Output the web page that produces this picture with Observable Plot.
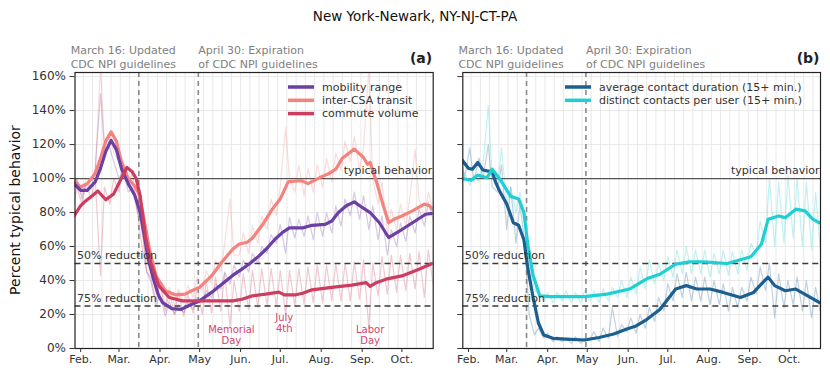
<!DOCTYPE html>
<html><head><meta charset="utf-8">
<script src="https://cdn.jsdelivr.net/npm/d3@7"></script>
<script src="https://cdn.jsdelivr.net/npm/@observablehq/plot@0.6"></script>
<style>
body{margin:0;background:#fff;font-family:"DejaVu Sans",sans-serif;}
#title{height:30px;box-sizing:border-box;padding-top:8px;text-align:center;font-size:13.5px;color:#111;line-height:17px;}
#row{display:flex;}
</style></head><body>
<div id="title">New York-Newark, NY-NJ-CT-PA</div>
<div id="row"></div>
<script>
// ---------- tick labels / annotations ----------
const monthTicks = ["2020-02-01","2020-03-01","2020-04-01","2020-05-01","2020-06-01","2020-07-01","2020-08-01","2020-09-01","2020-10-01"];
const monthLabels = ["Feb.","Mar.","Apr.","May","Jun.","Jul.","Aug.","Sep.","Oct."];
const yTicks = [0,20,40,60,80,100,120,140,160];
const eventDates = ["2020-03-16","2020-04-30"];
const eventLabels = ["March 16: Updated\nCDC NPI guidelines","April 30: Expiration\nof CDC NPI guidelines"];
const refValues = [100,50,25];
const refLabels = ["typical behavior","50% reduction","75% reduction"];
const holidayDates = ["2020-05-25","2020-07-04","2020-09-07"];
const holidayLabels = ["Memorial\nDay","July\n4th","Labor\nDay"];
const holidayY = [8,15,8];
const panelLabels = ["(a)","(b)"];
const namesA = ["mobility range","inter-CSA transit","commute volume"];
const namesB = ["average contact duration (15+ min.)","distinct contacts per user (15+ min.)"];

// ---------- smoothed series (date, percent) ----------
const mobilitySmooth = [["2020-01-27",97],["2020-02-01",93],["2020-02-06",93],["2020-02-12",98],["2020-02-16",106],["2020-02-20",116],["2020-02-24",122.5],["2020-02-28",117],["2020-03-03",105.5],["2020-03-08",97],["2020-03-13",90],["2020-03-17",80],["2020-03-20",67],["2020-03-23",53],["2020-03-27",41],["2020-03-31",31],["2020-04-03",27],["2020-04-10",23.5],["2020-04-17",23],["2020-04-25",26],["2020-05-01",28],["2020-05-10",33],["2020-05-18",38],["2020-05-26",43],["2020-06-02",46.7],["2020-06-08",50],["2020-06-15",54.5],["2020-06-21",59],["2020-06-27",64.3],["2020-07-03",68.5],["2020-07-08",71],["2020-07-18",71],["2020-07-25",72.5],["2020-08-04",73],["2020-08-09",75],["2020-08-14",80],["2020-08-20",84],["2020-08-26",86.3],["2020-09-01",83],["2020-09-07",80],["2020-09-14",74],["2020-09-21",65.3],["2020-09-29",69],["2020-10-09",74],["2020-10-19",79],["2020-10-24",79.5]];
const transitSmooth = [["2020-01-27",99],["2020-02-01",95],["2020-02-06",97],["2020-02-12",103],["2020-02-16",112],["2020-02-20",122],["2020-02-24",127.5],["2020-02-28",122],["2020-03-03",109.5],["2020-03-08",100],["2020-03-13",95.5],["2020-03-16",91],["2020-03-19",80],["2020-03-24",58.5],["2020-03-29",42.7],["2020-04-05",34],["2020-04-13",31.5],["2020-04-20",32],["2020-04-25",34],["2020-05-01",36],["2020-05-10",42.7],["2020-05-18",51],["2020-05-26",58.4],["2020-05-31",61.5],["2020-06-06",62.5],["2020-06-10",65],["2020-06-18",73.3],["2020-06-25",82],["2020-07-01",88],["2020-07-07",98],["2020-07-12",98.5],["2020-07-17",98.8],["2020-07-22",97],["2020-08-01",101],["2020-08-07",103],["2020-08-12",105.5],["2020-08-17",112],["2020-08-26",117.3],["2020-09-02",112.4],["2020-09-05",108.4],["2020-09-07",109.5],["2020-09-12",97.6],["2020-09-17",84],["2020-09-21",74],["2020-09-25",76],["2020-10-01",78],["2020-10-09",81],["2020-10-18",85],["2020-10-22",84],["2020-10-24",82]];
const commuteSmooth = [["2020-01-27",78],["2020-02-01",84],["2020-02-05",87],["2020-02-10",90],["2020-02-14",92.7],["2020-02-20",87.5],["2020-02-26",91],["2020-03-03",100.5],["2020-03-07",106.5],["2020-03-11",104],["2020-03-14",100],["2020-03-17",90],["2020-03-21",66],["2020-03-25",50.6],["2020-03-31",37],["2020-04-08",30],["2020-04-18",28],["2020-05-01",28],["2020-05-15",28],["2020-05-26",28],["2020-06-02",29],["2020-06-10",31],["2020-06-20",32],["2020-06-30",33.2],["2020-07-04",31.5],["2020-07-12",31.5],["2020-07-18",32.5],["2020-07-25",34.5],["2020-08-09",36],["2020-08-24",37.3],["2020-09-04",38.8],["2020-09-07",36.5],["2020-09-11",38.5],["2020-09-19",40.8],["2020-10-01",42.7],["2020-10-13",46.3],["2020-10-24",50]];
const durationSmooth = [["2020-01-27",111],["2020-02-01",106],["2020-02-04",105.5],["2020-02-08",109.5],["2020-02-12",105],["2020-02-15",104.5],["2020-02-19",104],["2020-02-22",97],["2020-02-25",92],["2020-03-01",85],["2020-03-06",74],["2020-03-10",72.5],["2020-03-14",64],["2020-03-17",47],["2020-03-21",30],["2020-03-25",15],["2020-03-29",8],["2020-04-05",6],["2020-04-15",5.5],["2020-04-29",5],["2020-05-10",6.5],["2020-05-21",8.5],["2020-05-31",11.5],["2020-06-07",13.3],["2020-06-15",17],["2020-06-25",23],["2020-06-30",28],["2020-07-07",35],["2020-07-15",37],["2020-07-23",35],["2020-08-02",35],["2020-08-12",33],["2020-08-25",30],["2020-09-04",33],["2020-09-10",38],["2020-09-15",42],["2020-09-20",37],["2020-09-28",34],["2020-10-06",35],["2020-10-15",31],["2020-10-24",27]];
const contactsSmooth = [["2020-01-27",100],["2020-02-03",99],["2020-02-08",102],["2020-02-15",100.5],["2020-02-19",105.5],["2020-02-25",99.5],["2020-03-04",89.5],["2020-03-10",88],["2020-03-14",80],["2020-03-17",61],["2020-03-21",43],["2020-03-26",31],["2020-04-03",30.5],["2020-04-29",30.5],["2020-05-16",32],["2020-06-02",35],["2020-06-15",41],["2020-06-25",43.7],["2020-07-07",49.6],["2020-07-17",51],["2020-07-28",51],["2020-08-15",50],["2020-09-02",54],["2020-09-10",61.5],["2020-09-15",76],["2020-09-23",78],["2020-09-28",77],["2020-10-06",82],["2020-10-13",81],["2020-10-19",76],["2020-10-24",74]];

// ---------- daily raw values, read as (Sunday, Wednesday) of each week from 2020-01-26 ----------
const mobilityRaw = [92,100, 88,97, 95,105, 150,118, 118,110, 100,105, 92,95, 80,75, 45,40, 25,32, 19,28, 20,26, 21,27, 23,30, 27,34, 30,38, 35,45, 38,49, 42,52, 45,56, 50,60, 56,67, 62,73, 56,77, 65,76, 66,78, 64,80, 66,80, 68,84, 72,88, 78,92, 76,90, 70,84, 64,78, 55,70, 60,74, 63,78, 68,82, 72,86, 75,84];
const transitRaw = [95,100, 90,100, 100,105, 165,120, 125,115, 110,105, 100,98, 85,70, 50,48, 32,38, 26,36, 25,35, 27,37, 30,42, 33,46, 38,52, 45,62, 88,55, 55,68, 56,72, 62,78, 70,88, 78,95, 130,100, 92,108, 90,106, 92,108, 95,112, 98,115, 105,122, 110,125, 105,118, 165,100, 85,98, 68,82, 70,85, 72,88, 117,88, 78,92, 80,90];
const commuteRaw = [80,95, 85,97, 88,100, 43,95, 85,100, 92,110, 95,104, 80,62, 45,42, 28,38, 22,34, 20,33, 19,32, 21,36, 20,40, 21,42, 22,44, 13,40, 22,44, 23,46, 24,47, 25,47, 25,46, 20,46, 25,47, 26,48, 27,49, 27,49, 28,50, 28,50, 28,51, 29,52, 12,50, 31,54, 32,55, 33,55, 34,56, 35,57, 30,58, 36,60];
const durationRaw = [115,100, 118,98, 112,100, 120,95, 92,108, 70,95, 62,85, 60,20, 8,12, 6,9, 4,7, 4,6, 3,7, 3,6, 5,10, 4,12, 6,24, 7,14, 10,18, 9,20, 12,24, 16,30, 22,38, 28,44, 30,45, 28,42, 28,42, 26,40, 26,38, 22,36, 24,36, 28,42, 32,48, 34,50, 18,44, 24,40, 26,42, 22,40, 18,36, 20,30];
const contactsRaw = [95,104, 96,102, 98,108, 143,100, 95,118, 85,95, 80,92, 75,50, 35,32, 28,33, 27,33, 28,34, 27,33, 27,34, 28,34, 27,35, 28,36, 30,40, 30,42, 32,48, 35,52, 38,50, 40,54, 42,58, 44,60, 44,58, 44,58, 42,56, 44,58, 43,57, 44,58, 46,62, 55,75, 62,100, 60,98, 62,102, 65,100, 60,98, 58,92, 55,85];

const colors = {mobility:"#6b3fa3", transit:"#f4827e", commute:"#cc3d5f", duration:"#1b5e8f", contacts:"#1fcfd3"};

// ---------- helpers ----------
const parse = d3.utcParse("%Y-%m-%d");
const xDomain = [new Date("2020-01-27T17:00Z"), new Date("2020-10-24T17:00Z")];
const toPts = arr => arr.map(([d,v]) => ({date: parse(d), value: v}));
const rawStart = parse("2020-01-26");
const rawPts = vals => vals.map((v,i) => ({date: d3.utcDay.offset(rawStart, Math.floor(i/2)*7 + (i%2 ? 3 : 0)), value: v}));
const labelMap = new Map(monthTicks.map((d,i) => [+parse(d), monthLabels[i]]));

function makePanel(cfg){
  const weeks = d3.utcMonday.range(xDomain[0], xDomain[1]);
  const marks = [
    Plot.ruleX(weeks, {stroke:"#e3e3e3", strokeWidth:0.8}),
    Plot.ruleY(yTicks, {stroke:"#e3e3e3", strokeWidth:0.8})
  ];
  for (const s of cfg.series) marks.push(Plot.line(rawPts(s.raw), {x:"date", y:"value", stroke:s.color, strokeOpacity:0.28, strokeWidth:1.2, clip:true}));
  marks.push(
    Plot.ruleX(eventDates.map(parse), {x:d=>d, stroke:"#8a8a8a", strokeWidth:1.6, strokeDasharray:"5,4"}),
    Plot.ruleY([refValues[0]], {stroke:"#555", strokeWidth:1.3}),
    Plot.ruleY(refValues.slice(1), {stroke:"#3a3a3a", strokeWidth:1.6, strokeDasharray:"6,4"})
  );
  for (const s of cfg.series) marks.push(Plot.line(toPts(s.smooth), {x:"date", y:"value", stroke:s.color, strokeWidth:3.2, clip:true}));
  marks.push(
    Plot.text([refValues[0]], {y:d=>d, text:()=>refLabels[0], frameAnchor:"right", textAnchor:"end", dx:-1, dy:-8, fontSize:11, fill:"#333"}),
    Plot.text(refValues.slice(1), {y:d=>d, text:(d,i)=>refLabels[i+1], frameAnchor:"left", textAnchor:"start", dx:2, dy:-8, fontSize:11, fill:"#333"}),
    Plot.text([parse(eventDates[0])], {x:d=>d, frameAnchor:"top", text:()=>eventLabels[0], textAnchor:"middle", dx:-15.5, dy:-16, lineAnchor:"middle", lineHeight:1.27, fontSize:11, fill:"#808080"}),
    Plot.text([parse(eventDates[1])], {x:d=>d, frameAnchor:"top", text:()=>eventLabels[1], textAnchor:"start", dx:0, dy:-16, lineAnchor:"middle", lineHeight:1.27, fontSize:11, fill:"#808080"}),
    Plot.text([cfg.label], {text:d=>d, frameAnchor:"top-right", textAnchor:"end", dx:-1, dy:-14, lineAnchor:"middle", fontWeight:"bold", fontSize:14, fill:"#222"})
  );
  if (cfg.holidays) marks.push(Plot.text(holidayDates.map(parse), {x:d=>d, y:(d,i)=>holidayY[i], text:(d,i)=>holidayLabels[i], fill:"#d4456f", fontSize:10, lineHeight:1.1}));
  marks.push(
    Plot.frame({stroke:"#222", strokeWidth:1.2}),
    Plot.axisX(monthTicks.map(parse), {tickFormat:d=>labelMap.get(+d), tickSize:4, tickPadding:3, fontSize:11, label:null}),
    Plot.axisY(yTicks, {tickFormat: cfg.yLabels ? (d=>d+"%") : (()=>""), tickSize:5, tickPadding:4, fontSize:12, label:null})
  );
  const plot = Plot.plot({
    width: cfg.width, height: 348,
    marginTop: 42, marginBottom: 30, marginLeft: cfg.marginLeft, marginRight: cfg.marginRight,
    x: {type:"utc", domain: xDomain},
    y: {domain: [0, 162.4]},
    style: {fontFamily:"DejaVu Sans", fontSize:"11px", color:"#333", background:"white", overflow:"visible"},
    marks
  });
  const svg = d3.select(plot);
  cfg.legend.forEach((item, i) => {
    const y = 57 + 13.3*i;
    svg.append("line").attr("x1", cfg.legendX).attr("x2", cfg.legendX+26).attr("y1", y).attr("y2", y)
      .attr("stroke", item.color).attr("stroke-width", 3.5);
    svg.append("text").attr("x", cfg.legendX+34).attr("y", y).attr("dy","0.35em").attr("text-anchor","start")
      .attr("font-size", 11).attr("fill", "#333").attr("font-family","DejaVu Sans").text(item.name);
  });
  if (cfg.yTitle) {
    svg.append("text").attr("transform", "translate(15,180) rotate(-90)").attr("text-anchor","middle")
      .attr("dy","0.35em").attr("font-size", 14).attr("fill","#111").attr("font-family","DejaVu Sans").text(cfg.yTitle);
  }
  return plot;
}

const row = document.getElementById("row");
row.append(makePanel({
  width: 445, marginLeft: 74.5, marginRight: 12.3, yLabels: true, label: panelLabels[0], holidays: true,
  yTitle: "Percent typical behavior", legendX: 288,
  series: [
    {raw: transitRaw, smooth: transitSmooth, color: colors.transit},
    {raw: mobilityRaw, smooth: mobilitySmooth, color: colors.mobility},
    {raw: commuteRaw, smooth: commuteSmooth, color: colors.commute}
  ],
  legend: [{name: namesA[0], color: colors.mobility},{name: namesA[1], color: colors.transit},{name: namesA[2], color: colors.commute}]
}));
row.append(makePanel({
  width: 385, marginLeft: 17.3, marginRight: 10, yLabels: false, label: panelLabels[1], holidays: false,
  legendX: 120,
  series: [
    {raw: durationRaw, smooth: durationSmooth, color: colors.duration},
    {raw: contactsRaw, smooth: contactsSmooth, color: colors.contacts}
  ],
  legend: [{name: namesB[0], color: colors.duration},{name: namesB[1], color: colors.contacts}]
}));
</script>
</body></html>
